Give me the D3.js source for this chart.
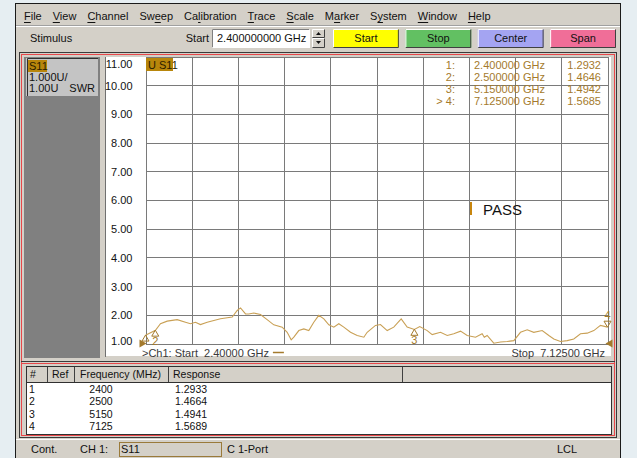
<!DOCTYPE html>
<html>
<head>
<meta charset="utf-8">
<script src="https://cdn.jsdelivr.net/npm/d3@7"></script>
<style>
  body { margin: 0; background: #e6eef2; }
  svg { display: block; font-family: "Liberation Sans", Arial, sans-serif; font-size: 11px; }
  text { white-space: pre; }
</style>
</head>
<body>
<svg id="vna" width="637" height="458"></svg>
<script>
// trace (GHz, SWR)
const freqGHz = [2.400, 2.502, 2.553, 2.622, 2.724, 2.809, 2.860, 2.911, 2.962, 3.031,
    3.099, 3.167, 3.236, 3.287, 3.338, 3.372, 3.423, 3.456, 3.508, 3.576,
    3.644, 3.712, 3.798, 3.849, 3.890, 3.917, 3.968, 4.019, 4.070, 4.121,
    4.172, 4.224, 4.275, 4.326, 4.377, 4.428, 4.497, 4.565, 4.633, 4.667,
    4.752, 4.803, 4.872, 4.939, 5.015, 5.076, 5.150, 5.205, 5.281, 5.332,
    5.417, 5.486, 5.553, 5.622, 5.690, 5.775, 5.843, 5.865, 5.894, 5.962,
    6.031, 6.099, 6.167, 6.235, 6.304, 6.371, 6.457, 6.525, 6.576, 6.644,
    6.713, 6.780, 6.849, 6.917, 6.985, 7.053, 7.125];
const swr = [1.29, 1.46, 1.69, 1.78, 1.83, 1.74, 1.69, 1.74, 1.66, 1.74,
    1.80, 1.86, 1.90, 1.92, 2.15, 2.24, 2.03, 2.03, 2.06, 2.01,
    1.83, 1.65, 1.57, 1.39, 1.13, 1.22, 1.45, 1.51, 1.45, 1.74,
    1.98, 1.86, 1.65, 1.57, 1.69, 1.57, 1.39, 1.28, 1.22, 1.39,
    1.63, 1.66, 1.45, 1.57, 1.86, 1.57, 1.49, 1.59, 1.45, 1.31,
    1.39, 1.28, 1.34, 1.43, 1.28, 1.22, 1.34, 1.22, 1.28, 1.01,
    1.05, 1.07, 1.10, 1.39, 1.48, 1.39, 1.45, 1.28, 1.16, 1.07,
    1.10, 1.16, 1.34, 1.36, 1.45, 1.63, 1.57];

const startGHz = 2.4;
const stopGHz = 7.125;
const divisions = 10;
const yTickValues = [1, 2, 3, 4, 5, 6, 7, 8, 9, 10, 11];

const markerNames = ["1", "2", "3", "4"];
const markerFreqGHz = [2.4, 2.5, 5.15, 7.125];
const markerSwr = [1.2932, 1.4646, 1.4942, 1.5685];
const tableFreqMHz = ["2400", "2500", "5150", "7125"];
const tableResponse = ["1.2933", "1.4664", "1.4941", "1.5689"];

const menuItems = ["File", "View", "Channel", "Sweep", "Calibration", "Trace", "Scale", "Marker", "System", "Window", "Help"];
const menuAccel = [0, 0, 0, 2, 2, 0, 0, 1, 1, 0, 0];
const buttonLabels = ["Start", "Stop", "Center", "Span"];
const buttonColors = ["#ffff00", "#62c062", "#a4a4f2", "#f06e98"];
const tableHeaders = ["#", "Ref", "Frequency (MHz)", "Response"];

const traceColor = "#c9a055";
const markerColor = "#a47a2c";
const goldBg = "#b8860b";

const svg = d3.select("#vna");

function bevel(x, y, w, h, fill, sunken) {
    const g = svg.append("g");
    g.append("rect").attr("x", x).attr("y", y).attr("width", w).attr("height", h).attr("fill", fill);
    const lt = sunken ? "#808080" : "#ffffff";
    const rb = sunken ? "#ffffff" : "#404040";
    g.append("path").attr("d", `M${x + 0.5},${y + h - 0.5}V${y + 0.5}H${x + w - 0.5}`)
        .attr("fill", "none").attr("stroke", lt);
    g.append("path").attr("d", `M${x + 0.5},${y + h - 0.5}H${x + w - 0.5}V${y + 0.5}`)
        .attr("fill", "none").attr("stroke", rb);
    return g;
}

// application window
svg.append("rect")
    .attr("x", 15.5).attr("y", 3.5).attr("width", 605).attr("height", 460)
    .attr("fill", "#d4d0c8").attr("stroke", "#1a1a1a");

// menu bar
let mx = 24;
menuItems.forEach((name, i) => {
    const t = svg.append("text").attr("x", mx).attr("y", 20).attr("fill", "#111").text(name);
    const node = t.node();
    const a = node.getSubStringLength(0, menuAccel[i]);
    const b = node.getSubStringLength(0, menuAccel[i] + 1);
    svg.append("line")
        .attr("x1", mx + a).attr("x2", mx + b).attr("y1", 22.5).attr("y2", 22.5)
        .attr("stroke", "#111");
    mx += node.getComputedTextLength() + 11;
});
svg.append("line").attr("x1", 16).attr("x2", 620).attr("y1", 25.5).attr("y2", 25.5).attr("stroke", "#a0a0a0");
svg.append("line").attr("x1", 16).attr("x2", 620).attr("y1", 26.5).attr("y2", 26.5).attr("stroke", "#ffffff");

// stimulus toolbar
svg.append("text").attr("x", 30).attr("y", 42).attr("fill", "#111").text("Stimulus");
svg.append("text").attr("x", 209).attr("y", 42).attr("text-anchor", "end").attr("fill", "#111").text("Start");
bevel(212, 29, 98, 19, "#ffffff", true);
svg.append("text").attr("x", 217).attr("y", 42).attr("fill", "#111").text("2.400000000 GHz");
bevel(312, 29, 13, 9, "#d4d0c8", false);
bevel(312, 38, 13, 10, "#d4d0c8", false);
svg.append("path").attr("d", "M316,35L318.5,32L321,35Z").attr("fill", "#111");
svg.append("path").attr("d", "M316,41L318.5,44L321,41Z").attr("fill", "#111");

const btnX = d3.scaleBand().domain(buttonLabels).range([333, 616]).paddingInner(0.09);
buttonLabels.forEach((b, i) => {
    bevel(btnX(b), 29, btnX.bandwidth(), 19, buttonColors[i], false);
    svg.append("text")
        .attr("x", btnX(b) + btnX.bandwidth() / 2).attr("y", 42)
        .attr("text-anchor", "middle").attr("fill", "#111").text(b);
});

// channel window frame
svg.append("rect").attr("x", 19.5).attr("y", 52.5).attr("width", 597).attr("height", 385)
    .attr("fill", "#d4d0c8").attr("stroke", "#3a3a3a");
svg.append("rect").attr("x", 21.5).attr("y", 54.5).attr("width", 593).attr("height", 381)
    .attr("fill", "none").attr("stroke", "#e8474a");

// left trace panel
svg.append("rect").attr("x", 24).attr("y", 57).attr("width", 76).attr("height", 301).attr("fill", "#808080");
svg.append("rect").attr("x", 26).attr("y", 58).attr("width", 72).attr("height", 38).attr("fill", "#c4c4c4");
svg.append("path").attr("d", "M27.5,96V58.5H98").attr("fill", "none").attr("stroke", "#303030");
svg.append("rect").attr("x", 28).attr("y", 60).attr("width", 19).attr("height", 12).attr("fill", goldBg);
svg.append("text").attr("x", 29).attr("y", 70).attr("fill", "#2a1d00").text("S11");
svg.append("text").attr("x", 29).attr("y", 81).attr("fill", "#111").text("1.000U/");
svg.append("text").attr("x", 29).attr("y", 92).attr("fill", "#111").text("1.00U");
svg.append("text").attr("x", 95).attr("y", 92).attr("text-anchor", "end").attr("fill", "#111").text("SWR");
svg.append("line").attr("x1", 105.5).attr("x2", 105.5).attr("y1", 57).attr("y2", 357).attr("stroke", "#707070");

// plot area
svg.append("rect").attr("x", 106).attr("y", 57).attr("width", 505).attr("height", 299).attr("fill", "#ffffff");

const x = d3.scaleLinear().domain([startGHz, stopGHz]).range([145.5, 607.5]);
const y = d3.scaleLinear().domain([1, 11]).range([343.5, 56.5]);
const xGrid = d3.range(divisions + 1).map(i => startGHz + i * (stopGHz - startGHz) / divisions);

const gx = svg.append("g")
    .attr("transform", "translate(0,56.5)")
    .call(d3.axisBottom(x).tickValues(xGrid).tickSize(287).tickFormat(""));
gx.select(".domain").remove();
gx.selectAll("line").attr("stroke", "#7a7a7a").attr("shape-rendering", "crispEdges");

const gy = svg.append("g")
    .attr("transform", "translate(145.5,0)")
    .call(d3.axisLeft(y).tickValues(yTickValues).tickSize(-462).tickPadding(13).tickFormat(d3.format(".2f")));
gy.select(".domain").remove();
gy.selectAll("line").attr("stroke", "#7a7a7a").attr("shape-rendering", "crispEdges");
gy.selectAll("text")
    .attr("font-family", "Liberation Sans, Arial, sans-serif").attr("font-size", 11).attr("fill", "#111")
    .attr("dy", d => d === 11 ? "1.0em" : d === 1 ? "0.1em" : "0.36em");

// trace title box
svg.append("rect").attr("x", 146).attr("y", 58).attr("width", 27).attr("height", 13).attr("fill", goldBg);
svg.append("text").attr("x", 148).attr("y", 69).attr("fill", "#2a1d00").text("U S11");

// reference position arrows
svg.append("path").attr("d", `M${x(startGHz) - 6},${y(1) - 4}L${x(startGHz) + 1},${y(1)}L${x(startGHz) - 6},${y(1) + 4}Z`).attr("fill", markerColor);
svg.append("path").attr("d", `M${x(stopGHz) + 5},${y(1) - 4}L${x(stopGHz) - 2},${y(1)}L${x(stopGHz) + 5},${y(1) + 4}Z`).attr("fill", markerColor);

// trace
const points = freqGHz.map((f, i) => [f, swr[i]]);
svg.append("path")
    .datum(points)
    .attr("fill", "none")
    .attr("stroke", traceColor)
    .attr("stroke-width", 1.1)
    .attr("d", d3.line().x(d => x(d[0])).y(d => y(d[1])));

// markers
markerNames.forEach((m, i) => {
    const px = x(markerFreqGHz[i]);
    const py = y(markerSwr[i]);
    const active = i === markerNames.length - 1;
    const tri = active
        ? `M${px},${py}L${px - 3.5},${py - 6}L${px + 3.5},${py - 6}Z`
        : `M${px},${py}L${px - 3.5},${py + 6}L${px + 3.5},${py + 6}Z`;
    svg.append("path").attr("d", tri).attr("fill", "none").attr("stroke", markerColor);
    if (i > 0) {
        svg.append("text")
            .attr("x", px).attr("y", active ? py - 8 : py + 15)
            .attr("text-anchor", "middle").attr("fill", markerColor).text(m);
    }
});

// marker readout
markerNames.forEach((m, i) => {
    const by = 69 + i * 12;
    svg.append("text").attr("x", 455).attr("y", by).attr("text-anchor", "end").attr("fill", markerColor)
        .text((i === markerNames.length - 1 ? "> " : "") + m + ":");
    svg.append("text").attr("x", 474).attr("y", by).attr("fill", markerColor)
        .text(d3.format(".6f")(markerFreqGHz[i]) + " GHz");
    svg.append("text").attr("x", 601).attr("y", by).attr("text-anchor", "end").attr("fill", markerColor)
        .text(d3.format(".4f")(markerSwr[i]));
});

// limit test result
svg.append("rect").attr("x", 470).attr("y", 202).attr("width", 2).attr("height", 13).attr("fill", "#c8860e");
svg.append("text").attr("x", 483).attr("y", 215).attr("font-size", 15).attr("fill", "#111").text("PASS");

// sweep annotation
const startLabel = svg.append("text").attr("x", 142).attr("y", 357).attr("fill", "#3a3a3a").text(">Ch1: Start  2.40000 GHz");
const dashX = 142 + startLabel.node().getComputedTextLength() + 4;
svg.append("line").attr("x1", dashX).attr("x2", dashX + 11).attr("y1", 352.5).attr("y2", 352.5).attr("stroke", markerColor).attr("stroke-width", 1.5);
svg.append("text").attr("x", 605).attr("y", 357).attr("text-anchor", "end").attr("fill", "#3a3a3a").text("Stop  7.12500 GHz");

// marker table
svg.append("line").attr("x1", 21).attr("x2", 615).attr("y1", 361.5).attr("y2", 361.5).attr("stroke", "#3a3a3a");
svg.append("line").attr("x1", 21).attr("x2", 615).attr("y1", 363.5).attr("y2", 363.5).attr("stroke", "#e8474a");
svg.append("rect").attr("x", 26.5).attr("y", 366.5).attr("width", 585).attr("height", 68)
    .attr("fill", "#ffffff").attr("stroke", "#303030");
svg.append("rect").attr("x", 27).attr("y", 367).attr("width", 584).attr("height", 15).attr("fill", "#d4d0c8");
svg.append("line").attr("x1", 27).attr("x2", 611).attr("y1", 382.5).attr("y2", 382.5).attr("stroke", "#303030");
const colEdges = [47, 74, 168, 402];
colEdges.forEach(cx => {
    svg.append("line").attr("x1", cx + 0.5).attr("x2", cx + 0.5).attr("y1", 367).attr("y2", 382)
        .attr("stroke", "#404040");
});
const headerX = [30, 52, 80, 173];
tableHeaders.forEach((h, i) => {
    svg.append("text").attr("x", headerX[i]).attr("y", 378).attr("font-size", 10.5).attr("fill", "#111").text(h);
});
markerNames.forEach((m, i) => {
    const by = 393 + i * 12.3;
    svg.append("text").attr("x", 29).attr("y", by).attr("font-size", 10.5).attr("fill", "#111").text(m);
    svg.append("text").attr("x", 101).attr("y", by).attr("font-size", 10.5).attr("text-anchor", "middle").attr("fill", "#111").text(tableFreqMHz[i]);
    svg.append("text").attr("x", 175).attr("y", by).attr("font-size", 10.5).attr("fill", "#111").text(tableResponse[i]);
});

// status bar
svg.append("line").attr("x1", 16).attr("x2", 620).attr("y1", 439.5).attr("y2", 439.5).attr("stroke", "#ffffff");
svg.append("text").attr("x", 31).attr("y", 453).attr("fill", "#111").text("Cont.");
svg.append("text").attr("x", 80).attr("y", 453).attr("fill", "#111").text("CH 1:");
svg.append("rect").attr("x", 119.5).attr("y", 442.5).attr("width", 102).attr("height", 14)
    .attr("fill", "none").attr("stroke", "#9a7a3a");
svg.append("text").attr("x", 121).attr("y", 453).attr("fill", "#111").text("S11");
svg.append("text").attr("x", 227).attr("y", 453).attr("fill", "#111").text("C 1-Port");
svg.append("text").attr("x", 557).attr("y", 453).attr("fill", "#111").text("LCL");
</script>
</body>
</html>
